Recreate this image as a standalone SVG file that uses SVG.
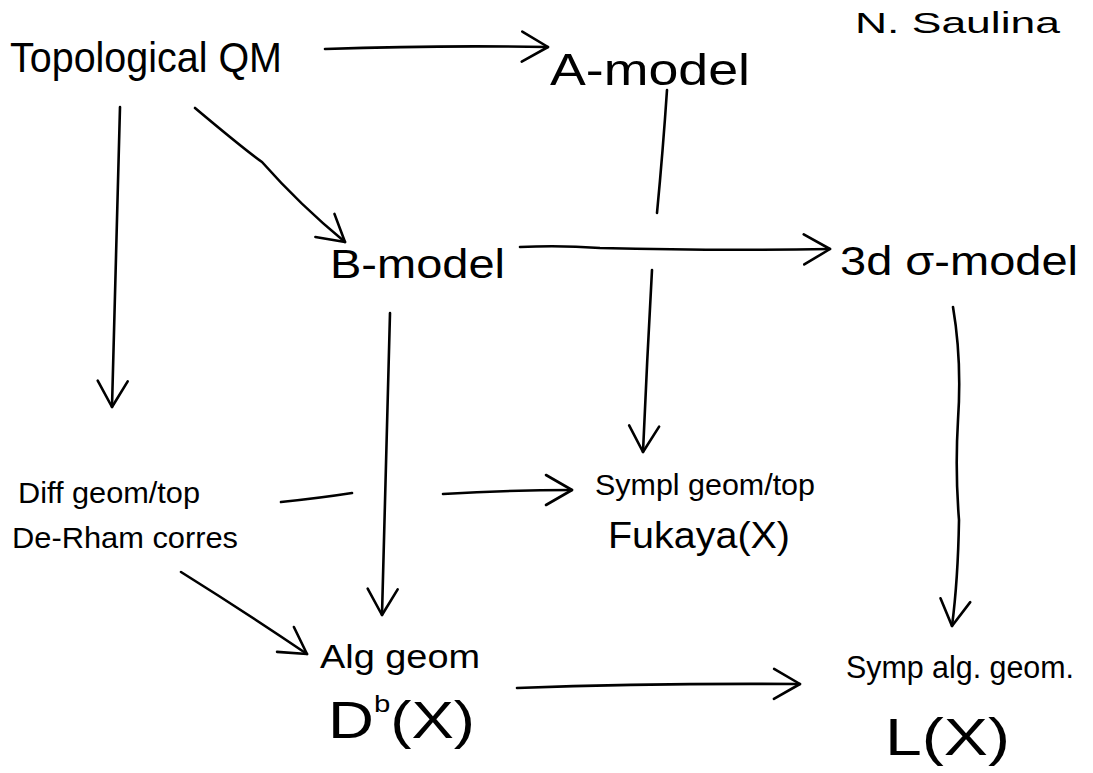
<svg xmlns="http://www.w3.org/2000/svg" width="1093" height="773" viewBox="0 0 1093 773">
<defs>
<style>
.bg{fill:#ffffff}
.lbl{font-family:"Liberation Sans","DejaVu Sans",sans-serif;fill:#000000}
.edge{fill:none;stroke:#000000;stroke-width:2.6;stroke-linecap:round;stroke-linejoin:round}
</style>
<marker id="arr" markerUnits="userSpaceOnUse" markerWidth="44" markerHeight="44" viewBox="-32 -22 44 44" refX="0" refY="0" orient="auto">
<path d="M-26,-15 L0,0 L-26,15" fill="none" stroke="#000000" stroke-width="2.6" stroke-linecap="round" stroke-linejoin="round"/>
</marker>
</defs>
<rect class="bg" x="0" y="0" width="1093" height="773"/>

<g id="connectors">
<path id="e-tqm-a" class="edge" d="M325,49 Q440,45 548,47" marker-end="url(#arr)"/>
<path id="e-a-sympl" class="edge" d="M667,90 Q663,150 657,213 M652,270 Q647,360 643,452" marker-end="url(#arr)"/>
<path id="e-tqm-diff" class="edge" d="M120,107 Q116,260 112,407" marker-end="url(#arr)"/>
<path id="e-tqm-b" class="edge" d="M195,108 Q245,150 262,162 Q300,205 345,242" marker-end="url(#arr)"/>
<path id="e-b-3d" class="edge" d="M520,247 Q560,245 600,248 Q720,251 830,249" marker-end="url(#arr)"/>
<path id="e-3d-symp" class="edge" d="M953,307 Q962,360 958,420 Q955,470 959,520 Q958,580 952,626" marker-end="url(#arr)"/>
<path id="e-b-alg" class="edge" d="M390,313 Q386,460 382,615" marker-end="url(#arr)"/>
<path id="e-diff-sympl" class="edge" d="M281,502 Q320,498 352,493 M443,494 Q510,490 572,490" marker-end="url(#arr)"/>
<path id="e-derham-alg" class="edge" d="M181,572 Q245,612 307,654" marker-end="url(#arr)"/>
<path id="e-alg-symp" class="edge" d="M517,688 Q650,683 800,684" marker-end="url(#arr)"/>
</g>

<g id="n-tqm"><text class="lbl" x="10" y="72" font-size="42" textLength="272" lengthAdjust="spacingAndGlyphs">Topological QM</text></g>
<g id="n-amodel"><text class="lbl" x="550" y="85" font-size="44" textLength="200" lengthAdjust="spacingAndGlyphs">A-model</text></g>
<g id="n-author"><text class="lbl" x="855" y="33" font-size="30" textLength="205" lengthAdjust="spacingAndGlyphs">N. Saulina</text></g>
<g id="n-bmodel"><text class="lbl" x="330" y="278" font-size="40" textLength="175" lengthAdjust="spacingAndGlyphs">B-model</text></g>
<g id="n-sigma"><text class="lbl" x="840" y="275" font-size="40" textLength="238" lengthAdjust="spacingAndGlyphs">3d σ-model</text></g>
<g id="n-diff">
<text class="lbl" x="18" y="503" font-size="30" textLength="182" lengthAdjust="spacingAndGlyphs">Diff geom/top</text>
<text class="lbl" x="12" y="548" font-size="30" textLength="226" lengthAdjust="spacingAndGlyphs">De-Rham corres</text>
</g>
<g id="n-sympl">
<text class="lbl" x="595" y="495" font-size="30" textLength="220" lengthAdjust="spacingAndGlyphs">Sympl geom/top</text>
<text class="lbl" x="608" y="548" font-size="36" textLength="182" lengthAdjust="spacingAndGlyphs">Fukaya(X)</text>
</g>
<g id="n-alg">
<text class="lbl" x="320" y="668" font-size="34" textLength="160" lengthAdjust="spacingAndGlyphs">Alg geom</text>
<text class="lbl" x="328" y="738" font-size="52" textLength="147" lengthAdjust="spacingAndGlyphs">D<tspan font-size="24" dy="-26">b</tspan><tspan dy="26">(X)</tspan></text>
</g>
<g id="n-symp">
<text class="lbl" x="846" y="678" font-size="31" textLength="228" lengthAdjust="spacingAndGlyphs">Symp alg. geom.</text>
<text class="lbl" x="885" y="755" font-size="52" textLength="125" lengthAdjust="spacingAndGlyphs">L(X)</text>
</g>
</svg>
